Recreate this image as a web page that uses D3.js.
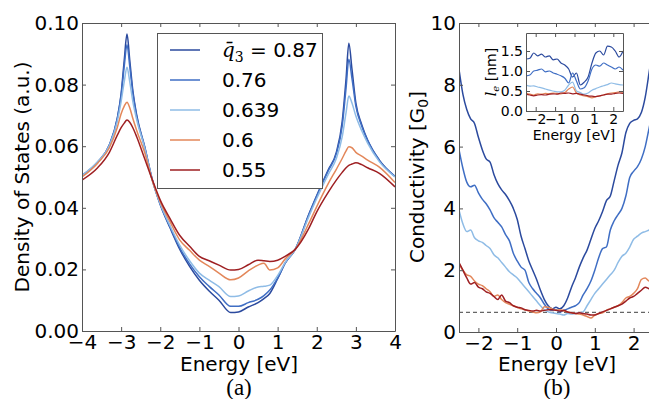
<!DOCTYPE html>
<html>
<head>
<meta charset="utf-8">
<script src="https://cdn.jsdelivr.net/npm/d3@7/dist/d3.min.js"></script>
<style>
  body { margin: 0; background: #fff; }
  text { font-family: "DejaVu Sans", sans-serif; }
</style>
</head>
<body>
<svg id="chart" width="649" height="399"></svg>
<script>
// ---------- data: (a) density of states ----------
const dosEnergy = [-4.0, -3.6, -3.3, -3.1, -3.0, -2.92, -2.85, -2.78, -2.7, -2.6, -2.4, -2.2, -2.0, -1.75, -1.5, -1.25, -1.0, -0.75, -0.5, -0.2,
  0.0, 0.25, 0.5, 0.65, 0.8, 1.0, 1.2, 1.45, 1.8, 2.0, 2.3, 2.5, 2.65, 2.75, 2.82, 2.9, 3.0, 3.15, 3.3, 3.6, 4.0];
const dos087 = [0.0505, 0.0548, 0.0605, 0.0690, 0.0770, 0.0880, 0.0964, 0.0880, 0.0780, 0.0700, 0.0600, 0.0490, 0.0410, 0.0335, 0.0265, 0.0210, 0.0165, 0.0130, 0.0100, 0.0060,
  0.0062, 0.0078, 0.0092, 0.0105, 0.0122, 0.0170, 0.0222, 0.0265, 0.0380, 0.0440, 0.0525, 0.0580, 0.0680, 0.0820, 0.0934, 0.0850, 0.0740, 0.0670, 0.0620, 0.0555, 0.0502];
const dos076 = [0.0505, 0.0548, 0.0604, 0.0688, 0.0765, 0.0860, 0.0929, 0.0860, 0.0772, 0.0695, 0.0598, 0.0490, 0.0412, 0.0338, 0.0270, 0.0218, 0.0176, 0.0145, 0.0117, 0.0080,
  0.0080, 0.0092, 0.0103, 0.0115, 0.0133, 0.0172, 0.0222, 0.0265, 0.0378, 0.0438, 0.0522, 0.0575, 0.0665, 0.0790, 0.0882, 0.0820, 0.0730, 0.0665, 0.0618, 0.0553, 0.0502];
const dos0639 = [0.0505, 0.0550, 0.0602, 0.0680, 0.0745, 0.0810, 0.0856, 0.0810, 0.0745, 0.0685, 0.0595, 0.0488, 0.0413, 0.0342, 0.0278, 0.0228, 0.0188, 0.0165, 0.0144, 0.0112,
  0.0114, 0.0130, 0.0143, 0.0145, 0.0149, 0.0180, 0.0224, 0.0265, 0.0372, 0.0430, 0.0510, 0.0560, 0.0630, 0.0710, 0.0763, 0.0740, 0.0698, 0.0650, 0.0610, 0.0550, 0.0500];
const dos060 = [0.0500, 0.0545, 0.0595, 0.0660, 0.0705, 0.0730, 0.0743, 0.0725, 0.0690, 0.0650, 0.0580, 0.0487, 0.0420, 0.0355, 0.0295, 0.0262, 0.0230, 0.0210, 0.0188, 0.0166,
  0.0172, 0.0195, 0.0214, 0.0220, 0.0198, 0.0205, 0.0235, 0.0265, 0.0350, 0.0404, 0.0480, 0.0525, 0.0560, 0.0585, 0.0598, 0.0595, 0.0580, 0.0568, 0.0555, 0.0532, 0.0482];
const dos055 = [0.0490, 0.0530, 0.0580, 0.0635, 0.0660, 0.0675, 0.0685, 0.0678, 0.0660, 0.0630, 0.0560, 0.0490, 0.0425, 0.0365, 0.0310, 0.0275, 0.0242, 0.0228, 0.0214, 0.0198,
  0.0200, 0.0215, 0.0230, 0.0228, 0.0226, 0.0230, 0.0243, 0.0265, 0.0334, 0.0387, 0.0452, 0.0490, 0.0515, 0.0530, 0.0538, 0.0542, 0.0546, 0.0540, 0.0530, 0.0512, 0.0468];

// ---------- data: (b) conductivity ----------
const condEnergy = [-2.5, -2.4, -2.3, -2.2, -2.1, -2.0, -1.9, -1.8, -1.7, -1.6, -1.5, -1.4, -1.3, -1.2, -1.1, -1.0, -0.9, -0.8, -0.7, -0.6, -0.5, -0.4, -0.3, -0.2, -0.1,
  0.0, 0.1, 0.2, 0.3, 0.4, 0.5, 0.6, 0.7, 0.8, 0.9, 1.0, 1.1, 1.2, 1.3, 1.4, 1.5, 1.6, 1.7, 1.8, 1.9, 2.0, 2.1, 2.2, 2.3, 2.4, 2.5];
const cond087 = [8.5, 7.7, 7.2, 6.9, 6.75, 6.3, 5.9, 5.6, 5.5, 5.1, 4.8, 4.6, 4.45, 4.25, 4.0, 3.65, 3.1, 2.7, 2.3, 2.0, 1.7, 1.35, 1.05, 0.85, 0.75,
  0.8, 0.75, 0.85, 1.1, 1.45, 1.75, 2.1, 2.4, 2.65, 3.0, 3.35, 3.6, 3.9, 4.25, 4.4, 4.9, 5.4, 5.8, 6.45, 6.75, 6.85, 6.9, 7.1, 7.6, 8.4, 9.2];
const cond076 = [5.9, 5.3, 4.85, 4.7, 4.75, 4.5, 4.3, 4.15, 3.95, 3.7, 3.55, 3.4, 3.15, 2.95, 2.55, 2.3, 2.1, 2.0, 1.6, 1.4, 1.25, 1.1, 0.9, 0.75, 0.7,
  0.72, 0.65, 0.7, 0.75, 0.8, 0.85, 0.95, 1.2, 1.4, 1.65, 2.0, 2.4, 2.7, 2.75, 3.3, 3.6, 3.8, 4.0, 4.4, 5.0, 5.2, 5.35, 5.6, 6.0, 6.6, 7.2];
const cond0639 = [3.95, 3.5, 3.25, 3.3, 3.05, 2.95, 2.9, 2.8, 2.7, 2.5, 2.4, 2.25, 2.1, 1.95, 1.85, 1.75, 1.6, 1.45, 1.3, 1.15, 1.0, 0.85, 0.72, 0.65, 0.62,
  0.6, 0.58, 0.55, 0.6, 0.58, 0.6, 0.62, 0.65, 0.85, 1.05, 1.25, 1.4, 1.55, 1.7, 1.85, 2.0, 2.25, 2.45, 2.55, 2.75, 3.0, 3.1, 3.2, 3.25, 3.3, 3.35];
const cond060 = [2.2, 2.0, 1.85, 1.8, 1.65, 1.55, 1.5, 1.4, 1.3, 1.15, 1.2, 1.05, 0.95, 0.9, 0.85, 0.8, 0.75, 0.72, 0.68, 0.65, 0.62, 0.65, 0.82, 0.8, 0.75,
  0.7, 0.72, 0.68, 0.65, 0.62, 0.6, 0.58, 0.55, 0.5, 0.45, 0.55, 0.6, 0.62, 0.7, 0.75, 0.8, 0.85, 0.95, 1.1, 1.15, 1.25, 1.4, 1.7, 1.75, 1.65, 1.7];
const cond055 = [2.25, 2.0, 1.75, 1.55, 1.6, 1.45, 1.4, 1.3, 1.25, 1.15, 1.05, 1.2, 1.0, 0.95, 0.85, 0.8, 0.78, 0.72, 0.7, 0.68, 0.7, 0.68, 0.7, 0.72, 0.72,
  0.7, 0.68, 0.7, 0.65, 0.62, 0.6, 0.62, 0.6, 0.58, 0.55, 0.55, 0.6, 0.65, 0.7, 0.75, 0.8, 0.85, 0.9, 1.0, 1.1, 1.15, 1.25, 1.35, 1.45, 1.4, 1.35];
const minCond = 0.637; // dashed reference line

// ---------- data: (b) inset, mean free path ----------
const mfpEnergy = [-2.5, -2.3, -2.1, -1.9, -1.7, -1.5, -1.3, -1.1, -0.9, -0.7, -0.5, -0.3, -0.1, 0.1, 0.3, 0.5, 0.7, 0.9, 1.1, 1.3, 1.5, 1.7, 1.9, 2.1, 2.3, 2.5];
const mfp087 = [1.3, 1.32, 1.45, 1.38, 1.42, 1.35, 1.38, 1.28, 1.3, 1.2, 1.15, 1.05, 0.85, 0.95, 0.65, 0.72, 0.85, 1.2, 1.45, 1.5, 1.4, 1.62, 1.6, 1.5, 1.35, 1.5];
const mfp076 = [0.88, 0.9, 1.0, 1.02, 1.05, 0.98, 1.0, 0.95, 0.92, 0.88, 0.82, 0.7, 0.95, 0.75, 0.55, 0.58, 0.75, 1.05, 1.15, 1.12, 1.2, 1.15, 1.1, 1.05, 1.1, 1.02];
const mfp0639 = [0.65, 0.62, 0.63, 0.6, 0.58, 0.55, 0.52, 0.5, 0.48, 0.48, 0.52, 0.65, 0.72, 0.5, 0.46, 0.42, 0.45, 0.52, 0.56, 0.6, 0.63, 0.66, 0.7, 0.68, 0.66, 0.65];
const mfp060 = [0.45, 0.42, 0.4, 0.43, 0.42, 0.44, 0.43, 0.45, 0.44, 0.43, 0.46, 0.55, 0.6, 0.45, 0.4, 0.38, 0.36, 0.33, 0.36, 0.38, 0.4, 0.43, 0.45, 0.46, 0.48, 0.47];
const mfp055 = [0.42, 0.4, 0.38, 0.4, 0.41, 0.4, 0.42, 0.43, 0.42, 0.45, 0.44, 0.45, 0.43, 0.44, 0.42, 0.4, 0.38, 0.37, 0.36, 0.38, 0.4, 0.42, 0.42, 0.44, 0.45, 0.44];

const legendLabels = ['0.87', '0.76', '0.639', '0.6', '0.55'];
const colors = ['#2b4a9e', '#3f6ec4', '#8fbce6', '#e3875a', '#9e1f22'];

const dosSeries = [dos087, dos076, dos0639, dos060, dos055];
const condSeries = [cond087, cond076, cond0639, cond060, cond055];
const mfpSeries = [mfp087, mfp076, mfp0639, mfp060, mfp055];

const svg = d3.select('#chart');
svg.append('rect').attr('width', 649).attr('height', 399).attr('fill', '#fff');

const frameColor = '#555';

// draw a framed axes box with inward ticks on all sides
function frame(g, x, y, xTicks, yTicks, yFmt, fontSize, pad) {
  const [x0, x1] = x.range();
  const [y0, y1] = y.range();
  const bottom = d3.axisBottom(x).tickValues(xTicks).tickSizeInner(-4).tickSizeOuter(0)
    .tickPadding(pad).tickFormat(d => d3.format('')(d).replace('-', '\u2212'));
  const top = d3.axisTop(x).tickValues(xTicks).tickSizeInner(-4).tickSizeOuter(0).tickFormat('');
  const left = d3.axisLeft(y).tickValues(yTicks).tickSizeInner(-4).tickSizeOuter(0)
    .tickPadding(3).tickFormat(yFmt);
  const right = d3.axisRight(y).tickValues(yTicks).tickSizeInner(-4).tickSizeOuter(0).tickFormat('');

  const axes = [
    g.append('g').attr('transform', `translate(0,${y0})`).call(bottom),
    g.append('g').attr('transform', `translate(0,${y1})`).call(top),
    g.append('g').attr('transform', `translate(${x0},0)`).call(left),
    g.append('g').attr('transform', `translate(${x1},0)`).call(right)
  ];
  axes.forEach(a => {
    a.select('.domain').attr('stroke', frameColor);
    a.selectAll('.tick line').attr('stroke', frameColor);
    a.selectAll('.tick text').attr('fill', '#000')
      .style('font-family', '"DejaVu Sans", sans-serif').style('font-size', fontSize + 'px');
  });
}

const line = (x, y, xs) => d3.line()
  .x((d, i) => x(xs[i]))
  .y(d => y(d))
  .curve(d3.curveMonotoneX);

// ########################################
// PANEL (a)
// ########################################
const xa = d3.scaleLinear().domain([-4, 4]).range([82, 395]);
const ya = d3.scaleLinear().domain([0, 0.1]).range([331, 23]);
const ga = svg.append('g');

svg.append('clipPath').attr('id', 'clipA').append('rect')
  .attr('x', 82).attr('y', 23).attr('width', 313).attr('height', 308);

ga.append('g').attr('clip-path', 'url(#clipA)')
  .selectAll('path').data(dosSeries).enter().append('path')
  .attr('d', d => line(xa, ya, dosEnergy)(d))
  .attr('fill', 'none')
  .attr('stroke', (d, i) => colors[i])
  .attr('stroke-width', 1.5);

frame(ga, xa, ya, d3.range(-4, 5, 1), d3.range(0, 0.101, 0.02), d3.format('.2f'), 20, 4);

// legend
const leg = ga.append('g');
leg.append('rect').attr('x', 157.5).attr('y', 33.5).attr('width', 165).attr('height', 155)
  .attr('fill', '#fff').attr('stroke', frameColor);
legendLabels.forEach((lab, i) => {
  const ly = 50 + i * 30;
  leg.append('line').attr('x1', 170).attr('x2', 200).attr('y1', ly).attr('y2', ly)
    .attr('stroke', colors[i]).attr('stroke-width', 1.5);
  const t = leg.append('text').attr('x', 222).attr('y', ly + 7).style('font-size', '20px');
  if (i === 0) {
    t.append('tspan').style('font-family', '"DejaVu Serif", serif').style('font-style', 'italic').text('q\u0304');
    t.append('tspan').attr('dy', 5).style('font-size', '14px').style('font-family', '"DejaVu Serif", serif').text('3');
    t.append('tspan').attr('dy', -5).text(' = ' + lab);
  } else {
    t.text(lab);
  }
});

ga.append('text').attr('x', 239).attr('y', 371).attr('text-anchor', 'middle')
  .style('font-size', '20px').text('Energy [eV]');
ga.append('text').attr('transform', 'translate(29,177) rotate(-90)').attr('text-anchor', 'middle')
  .style('font-size', '20px').text('Density of States (a.u.)');
ga.append('text').attr('x', 239).attr('y', 395).attr('text-anchor', 'middle')
  .style('font-family', '"Liberation Serif", serif').style('font-size', '23px').text('(a)');

// ########################################
// PANEL (b)
// ########################################
const xb = d3.scaleLinear().domain([-2.5, 2.5]).range([459, 653]);
const yb = d3.scaleLinear().domain([0, 10]).range([332, 23]);
const gb = svg.append('g');

svg.append('clipPath').attr('id', 'clipB').append('rect')
  .attr('x', 459).attr('y', 23).attr('width', 194).attr('height', 309);

const plotB = gb.append('g').attr('clip-path', 'url(#clipB)');
plotB.append('line')
  .attr('x1', xb(-2.5)).attr('x2', xb(2.5)).attr('y1', yb(minCond)).attr('y2', yb(minCond))
  .attr('stroke', '#666').attr('stroke-width', 1.2).attr('stroke-dasharray', '4,3');
plotB.selectAll('path.cond').data(condSeries).enter().append('path')
  .attr('class', 'cond')
  .attr('d', d => line(xb, yb, condEnergy)(d))
  .attr('fill', 'none')
  .attr('stroke', (d, i) => colors[i])
  .attr('stroke-width', 1.5);

frame(gb, xb, yb, d3.range(-2, 3, 1), d3.range(0, 11, 2), d3.format('d'), 20, 4);

gb.append('text').attr('x', 557).attr('y', 371).attr('text-anchor', 'middle')
  .style('font-size', '20px').text('Energy [eV]');
const cl = gb.append('text').attr('transform', 'translate(424,177) rotate(-90)').attr('text-anchor', 'middle')
  .style('font-size', '20px');
cl.append('tspan').text('Conductivity [G');
cl.append('tspan').attr('dy', 4).style('font-size', '14px').text('0');
cl.append('tspan').attr('dy', -4).text(']');
gb.append('text').attr('x', 557).attr('y', 395).attr('text-anchor', 'middle')
  .style('font-family', '"Liberation Serif", serif').style('font-size', '23px').text('(b)');

// ---------- inset ----------
const xi = d3.scaleLinear().domain([-2.5, 2.5]).range([526, 623]);
const yi = d3.scaleLinear().domain([0, 1.95]).range([111, 33]);
const gi = svg.append('g');
gi.append('rect').attr('x', 526).attr('y', 33).attr('width', 97).attr('height', 78).attr('fill', '#fff');

svg.append('clipPath').attr('id', 'clipI').append('rect')
  .attr('x', 526).attr('y', 33).attr('width', 97).attr('height', 78);
gi.append('g').attr('clip-path', 'url(#clipI)')
  .selectAll('path').data(mfpSeries).enter().append('path')
  .attr('d', d => line(xi, yi, mfpEnergy)(d))
  .attr('fill', 'none')
  .attr('stroke', (d, i) => colors[i])
  .attr('stroke-width', 1.2);

frame(gi, xi, yi, d3.range(-2, 3, 1), [0, 0.5, 1.0, 1.5], d3.format('.1f'), 14, 3);

gi.append('text').attr('x', 574).attr('y', 140).attr('text-anchor', 'middle')
  .style('font-size', '14px').text('Energy [eV]');
const il = gi.append('text').attr('transform', 'translate(496,72) rotate(-90)').attr('text-anchor', 'middle')
  .style('font-size', '14px');
il.append('tspan').style('font-family', '"DejaVu Serif", serif').style('font-style', 'italic').text('l');
il.append('tspan').attr('dy', 3).style('font-size', '10px').style('font-family', '"DejaVu Serif", serif').style('font-style', 'italic').text('e');
il.append('tspan').attr('dy', -3).text(' [nm]');
</script>
</body>
</html>
